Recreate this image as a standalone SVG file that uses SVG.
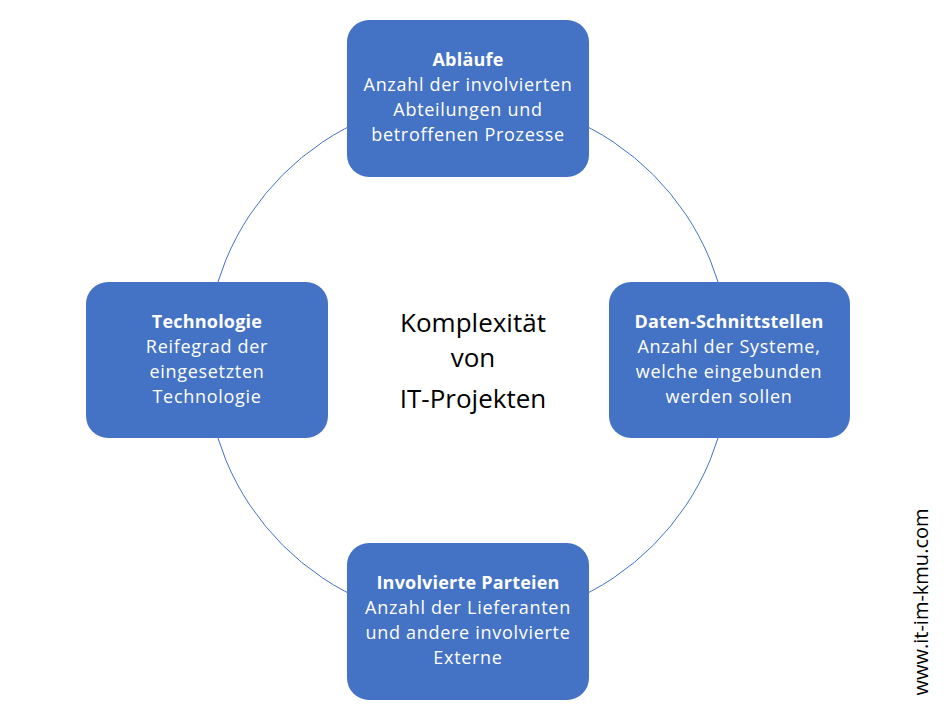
<svg xmlns="http://www.w3.org/2000/svg" width="949" height="718" viewBox="0 0 949 718">
<style>
.b{fill:#4472C4}
.t{font-family:"Open Sans","Liberation Sans",sans-serif;font-size:18px;letter-spacing:0.7px;fill:#fff;text-anchor:middle}
.h{font-weight:bold;letter-spacing:0.2px}
</style>
<rect width="949" height="718" fill="#fff"/>
<g id="connectors"><circle cx="468" cy="360" r="262" fill="none" stroke="#4472C4" stroke-width="1"/></g>
<g id="ablaeufe"><rect class="b" x="347" y="20" width="242" height="157" rx="22"/>
<text class="t" x="468" y="66"><tspan class="h">Abläufe</tspan><tspan x="468" dy="25">Anzahl der involvierten</tspan><tspan x="468" dy="25">Abteilungen und</tspan><tspan x="468" dy="25">betroffenen Prozesse</tspan></text></g>
<g id="technologie"><rect class="b" x="86" y="282" width="242" height="156" rx="22"/>
<text class="t" x="207" y="328"><tspan class="h">Technologie</tspan><tspan x="207" dy="25">Reifegrad der</tspan><tspan x="207" dy="25">eingesetzten</tspan><tspan x="207" dy="25">Technologie</tspan></text></g>
<g id="daten"><rect class="b" x="609" y="282" width="241" height="156" rx="22"/>
<text class="t" x="729" y="328"><tspan class="h">Daten-Schnittstellen</tspan><tspan x="729" dy="25">Anzahl der Systeme,</tspan><tspan x="729" dy="25">welche eingebunden</tspan><tspan x="729" dy="25">werden sollen</tspan></text></g>
<g id="parteien"><rect class="b" x="347" y="543" width="242" height="157" rx="22"/>
<text class="t" x="468" y="589"><tspan class="h">Involvierte Parteien</tspan><tspan x="468" dy="25">Anzahl der Lieferanten</tspan><tspan x="468" dy="25">und andere involvierte</tspan><tspan x="468" dy="25">Externe</tspan></text></g>
<g id="center"><text font-family="'Open Sans','Liberation Sans',sans-serif" font-size="26" fill="#000" text-anchor="middle"><tspan x="473" y="332">Komplexität</tspan><tspan x="473" y="367">von</tspan><tspan x="473" y="408">IT-Projekten</tspan></text></g>
<text transform="translate(928,602) rotate(-90)" font-family="'Open Sans','Liberation Sans',sans-serif" font-size="20" fill="#000" text-anchor="middle">www.it-im-kmu.com</text>
</svg>
